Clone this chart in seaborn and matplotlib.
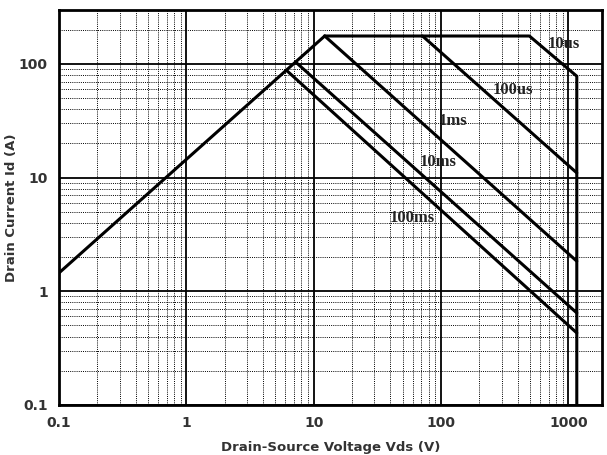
import numpy as np
import pandas as pd
import matplotlib
matplotlib.use("Agg")
import matplotlib.pyplot as plt
import matplotlib.ticker as mticker
import seaborn as sns

sns.set_style("white")
plt.rcParams['font.family'] = ['DejaVu Sans']

# Safe operating area curves
rds_v = [0.1, 12.2]
rds_i = [1.45, 176]

v_10us = [12.2, 494, 1164, 1164]
i_10us = [176, 176, 78, 0.1]

v_100us = [71.5, 1164]
i_100us = [176, 11]

v_1ms = [12.2, 1164]
i_1ms = [176, 1.84]

v_10ms = [7.2, 1164]
i_10ms = [104, 0.645]

v_100ms = [6.1, 1164]
i_100ms = [88, 0.43]

labels = ["10us", "100us", "1ms", "10ms", "100ms"]
label_v = [912, 368, 124, 94, 59]
label_i = [150, 59, 31.6, 13.8, 4.45]

xticks = [0.1, 1, 10, 100, 1000]
xtick_labels = ["0.1", "1", "10", "100", "1000"]
yticks = [0.1, 1, 10, 100]
ytick_labels = ["0.1", "1", "10", "100"]

fig = plt.figure(figsize=(6.07, 4.55), dpi=100)
ax = fig.add_axes([0.0972, 0.110, 0.895, 0.868])

curves = [(rds_v, rds_i), (v_10us, i_10us), (v_100us, i_100us),
          (v_1ms, i_1ms), (v_10ms, i_10ms), (v_100ms, i_100ms)]
for vv, ii in curves:
    sns.lineplot(x=vv, y=ii, sort=False, estimator=None, color='black', lw=2.2,
                 ax=ax, zorder=5)

ax.set_xscale('log')
ax.set_yscale('log')
ax.set_xlim(0.1, 1845)
ax.set_ylim(0.1, 298)

ax.xaxis.set_major_locator(mticker.FixedLocator(xticks))
ax.xaxis.set_major_formatter(mticker.FixedFormatter(xtick_labels))
ax.yaxis.set_major_locator(mticker.FixedLocator(yticks))
ax.yaxis.set_major_formatter(mticker.FixedFormatter(ytick_labels))
ax.xaxis.set_minor_locator(mticker.LogLocator(base=10, subs=np.arange(2, 10), numticks=20))
ax.yaxis.set_minor_locator(mticker.LogLocator(base=10, subs=np.arange(2, 10), numticks=20))
ax.xaxis.set_minor_formatter(mticker.NullFormatter())
ax.yaxis.set_minor_formatter(mticker.NullFormatter())

ax.grid(which='major', color='black', lw=1.3)
ax.grid(which='minor', color='black', ls=(0, (1, 1.2)), lw=0.7)
ax.tick_params(which='both', length=0, pad=8, labelsize=10, labelcolor='#333333')
for lab in ax.get_xticklabels() + ax.get_yticklabels():
    lab.set_fontweight('bold')
for s in ax.spines.values():
    s.set_linewidth(2)
    s.set_color('black')

for t, xv, yv in zip(labels, label_v, label_i):
    ax.text(xv, yv, t, family=['Liberation Serif'], fontweight='bold', fontsize=12,
            ha='center', va='center', color='#222222', zorder=6)

ax.set_xlabel('Drain-Source Voltage Vds (V)', fontsize=9.5, fontweight='bold',
              color='#333333', labelpad=8)
ax.set_ylabel('Drain Current Id (A)', fontsize=9.5, fontweight='bold',
              color='#333333')
ax.yaxis.set_label_coords(-0.075, 0.5)

fig.savefig('out.png', dpi=100)
